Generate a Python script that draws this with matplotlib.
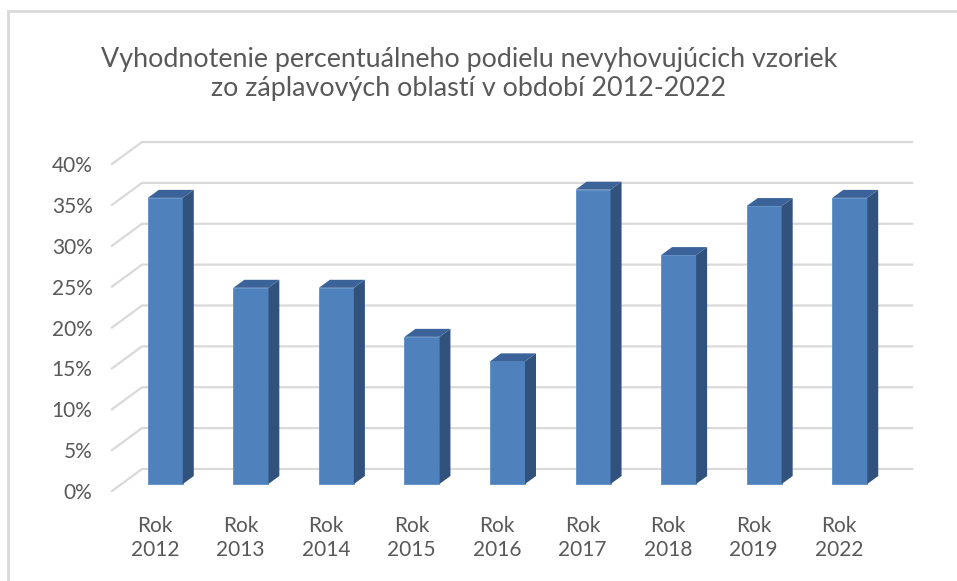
import matplotlib
matplotlib.use('Agg')
from matplotlib import pyplot as plt
from matplotlib.patches import Polygon, Rectangle

plt.rcParams['font.family'] = ['Lato', 'DejaVu Sans']

years = ['2012', '2013', '2014', '2015', '2016', '2017', '2018', '2019', '2022']
share = [35, 24, 24, 18, 15, 36, 28, 34, 35]
y_ticks = [0, 5, 10, 15, 20, 25, 30, 35, 40]
title = 'Vyhodnotenie percentuálneho podielu nevyhovujúcich vzoriek\nzo záplavových oblastí v období 2012-2022'

W, H = 957, 581
fig = plt.figure(figsize=(W / 100, H / 100), dpi=100)
ax_l, ax_b, ax_w, ax_h = 112, 90, 770, 327
ax = fig.add_axes([ax_l / W, ax_b / H, ax_w / W, ax_h / H])

n = len(years)
ax.set_xlim(-0.5, n - 0.5)
ax.set_ylim(0, 40)

# pixel -> data unit helpers (fake 3d depth)
px_x = ax_w / n
px_y = ax_h / 40.0
def off(dx, dy):
    return dx / px_x, dy / px_y

grid_c = '#d9d9d9'
wall_dx, wall_dy = off(30, 22)
for v in y_ticks:
    ax.plot([-0.5, -0.5 + wall_dx, n - 0.5 + wall_dx], [v, v + wall_dy, v + wall_dy],
            color=grid_c, lw=1.6, clip_on=False, zorder=1)

bar_w = 35 / px_x
shift_x, shift_y = off(10.5, 7)
depth_x, depth_y = off(11, 8)
front_c, side_c, top_c = '#4f81bd', '#30527c', '#3b6399'
for i, v in enumerate(share):
    x0 = i - bar_w / 2 + shift_x
    x1 = x0 + bar_w
    y0 = shift_y
    y1 = v + shift_y
    ax.bar(x0, v, width=bar_w, bottom=y0, align='edge', color=front_c,
           edgecolor='#5b8cc6', linewidth=0.6, zorder=3, clip_on=False)
    side = [(x1, y0), (x1, y1), (x1 + depth_x, y1 + depth_y), (x1 + depth_x, y0 + depth_y)]
    top = [(x0, y1), (x1, y1), (x1 + depth_x, y1 + depth_y), (x0 + depth_x, y1 + depth_y)]
    ax.add_patch(Polygon(side, closed=True, facecolor=side_c, edgecolor='none', zorder=3, clip_on=False))
    ax.add_patch(Polygon(top, closed=True, facecolor=top_c, edgecolor='none', zorder=3, clip_on=False))

ax.set_yticks(y_ticks)
ax.set_yticklabels([f'{t}%' for t in y_ticks])
ax.set_xticks(range(n))
ax.set_xticklabels([f'Rok\n{y}' for y in years], linespacing=1.25)
ax.tick_params(axis='y', length=0, pad=14, labelsize=15, labelcolor='#595959')
ax.tick_params(axis='x', length=0, pad=18, labelsize=15, labelcolor='#595959')
for s in ax.spines.values():
    s.set_visible(False)
ax.patch.set_visible(False)

fig.text(469 / W, 1 - 74 / H, title, ha='center', va='center', fontsize=19.4,
         color='#595959', linespacing=1.18)

fig.patches.append(Rectangle((8 / W, -0.1), 1.2, 1 - 11 / H + 0.1, transform=fig.transFigure,
                             fill=False, edgecolor=grid_c, lw=2))

fig.savefig('out.png', dpi=100)
